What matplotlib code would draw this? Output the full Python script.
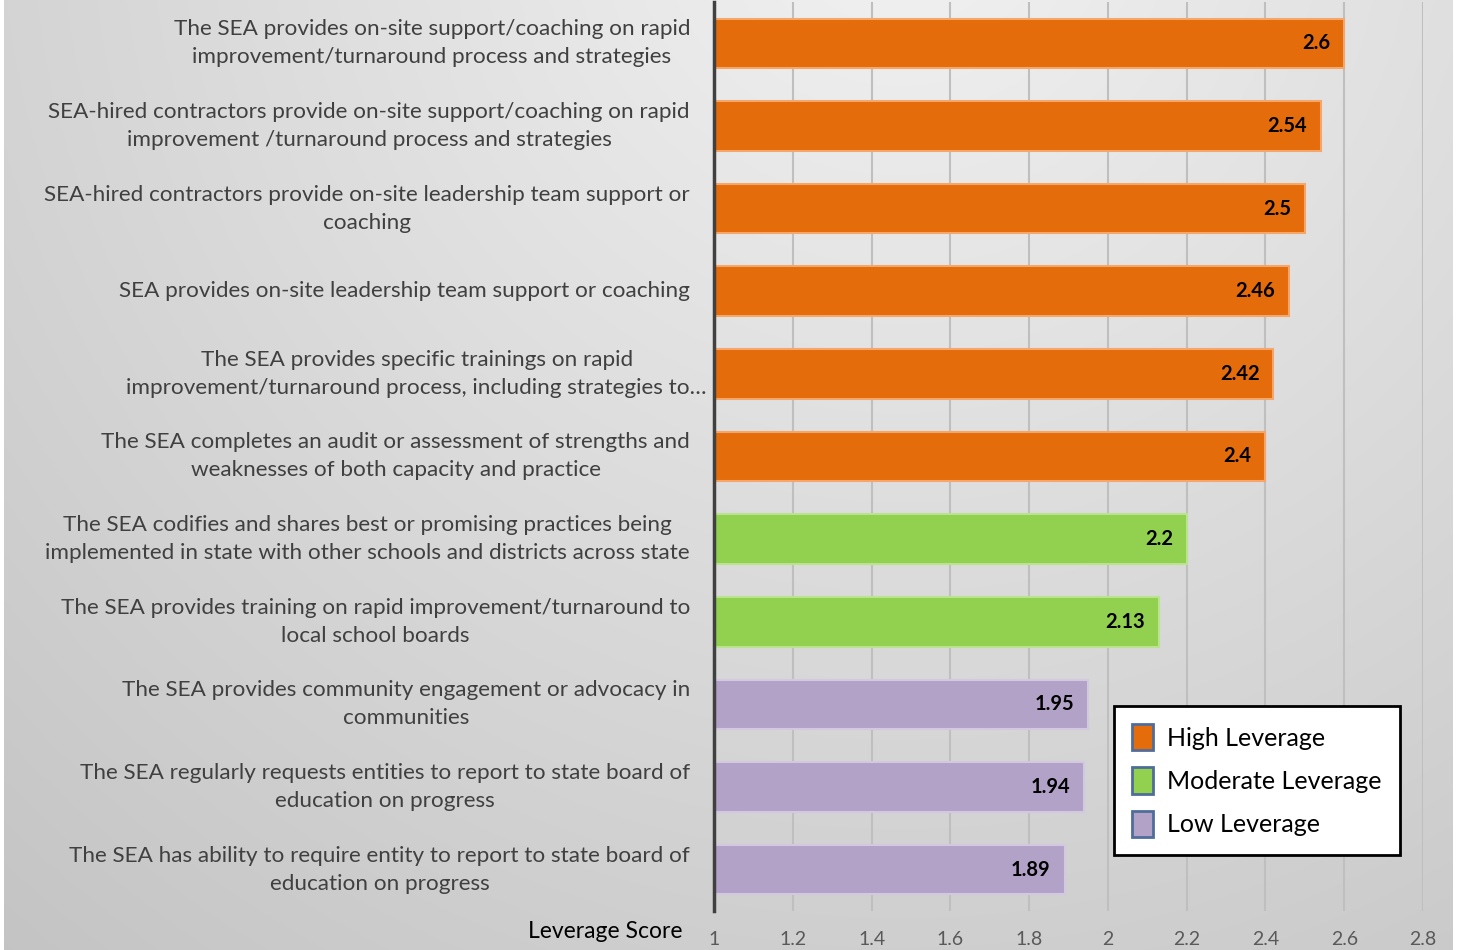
import numpy as np
import matplotlib
matplotlib.use("Agg")
import matplotlib.pyplot as plt
from matplotlib.patches import Patch
from matplotlib.transforms import blended_transform_factory, offset_copy

plt.rcParams["font.family"] = ["Lato", "DejaVu Sans"]

# ---- data -------------------------------------------------------------
labels = [
    "The SEA provides on-site support/coaching on rapid\nimprovement/turnaround process and strategies",
    "SEA-hired contractors provide on-site support/coaching on rapid\nimprovement /turnaround process and strategies",
    "SEA-hired contractors provide on-site leadership team support or\ncoaching",
    "SEA provides on-site leadership team support or coaching",
    "The SEA provides specific trainings on rapid\nimprovement/turnaround process, including strategies to…",
    "The SEA completes an audit or assessment of strengths and\nweaknesses of both capacity and practice",
    "The SEA codifies and shares best or promising practices being\nimplemented in state with other schools and districts across state",
    "The SEA provides training on rapid improvement/turnaround to\nlocal school boards",
    "The SEA provides community engagement or advocacy in\ncommunities",
    "The SEA regularly requests entities to report to state board of\neducation on progress",
    "The SEA has ability to require entity to report to state board of\neducation on progress",
]
scores = [2.6, 2.54, 2.5, 2.46, 2.42, 2.4, 2.2, 2.13, 1.95, 1.94, 1.89]
score_text = ["2.6", "2.54", "2.5", "2.46", "2.42", "2.4", "2.2", "2.13", "1.95", "1.94", "1.89"]
levels = ["High", "High", "High", "High", "High", "High",
          "Moderate", "Moderate", "Low", "Low", "Low"]
x_ticks = [1, 1.2, 1.4, 1.6, 1.8, 2, 2.2, 2.4, 2.6, 2.8]
x_tick_labels = ["1", "1.2", "1.4", "1.6", "1.8", "2", "2.2", "2.4", "2.6", "2.8"]
legend_names = ["High Leverage", "Moderate Leverage", "Low Leverage"]

fill = {"High": "#E46C0A", "Moderate": "#92D050", "Low": "#B3A2C7"}
edge = {"High": "#F5A66A", "Moderate": "#B9E38E", "Low": "#D3C8E2"}

W, H = 1459, 950
fig = plt.figure(figsize=(W / 100, H / 100), dpi=100)

# ---- background: soft radial grey gradient ---------------------------
bg = fig.add_axes([0, 0, 1, 1], zorder=-10)
yy, xx = np.mgrid[0:H, 0:W]
dist = np.hypot(xx - 900, yy + 100)
g = np.clip(0.95 - 1.32e-4 * dist, 0.0, 1.0)
img = np.dstack([g, g, g])
img[:, :4] = 1.0
img[:, 1453:] = 1.0
bg.imshow(img, aspect="auto", interpolation="bilinear")
bg.set_axis_off()

# ---- main bar chart ---------------------------------------------------
ax = fig.add_axes([714 / W, 1 - 911 / H, (1423 - 714) / W, (911 - 2) / H])
ax.set_facecolor("none")

ypos = np.arange(len(scores))
ax.barh(ypos, scores, height=0.6,
        color=[fill[l] for l in levels],
        edgecolor=[edge[l] for l in levels], linewidth=1.5, zorder=3)

ax.set_xlim(1, 2.8)
ax.set_ylim(len(scores) - 0.5, -0.5)
ax.set_xticks(x_ticks)
ax.set_xticklabels(x_tick_labels, color="#595959", fontsize=14)
ax.tick_params(axis="x", length=0, pad=14.5)
ax.set_yticks([])
ax.grid(axis="x", color="#BFBFBF", linewidth=1.5, zorder=0)
ax.set_axisbelow(True)
for s in ("top", "right", "bottom"):
    ax.spines[s].set_visible(False)
ax.spines["left"].set_color("#404040")
ax.spines["left"].set_linewidth(2.5)
ax.spines["left"].set_zorder(5)

# value labels inside bar ends
for y, v, t in zip(ypos, scores, score_text):
    ax.annotate(t, (v, y), xytext=(-10, 0), textcoords="offset points",
                ha="right", va="center", fontsize=14.5, fontweight="bold",
                color="black", zorder=6)

# category labels, right aligned left of the axis
trans = blended_transform_factory(ax.transAxes, ax.transData)
for y, lab in zip(ypos, labels):
    dx = -7 if "strategies to" in lab else -24
    ax.text(0, y, lab, transform=offset_copy(trans, fig=fig, x=dx, y=0, units="dots"),
            ha="right", va="center", multialignment="center",
            fontsize=16.2, color="#404040", linespacing=1.5)

fig.text(683 / W, 1 - 931 / H, "Leverage Score", ha="right", va="center",
         fontsize=16.5, color="black")

# legend
handles = [Patch(facecolor=fill[k], edgecolor="#4F6D9A", linewidth=2)
           for k in ("High", "Moderate", "Low")]
leg = ax.legend(handles, legend_names, loc="upper left",
                bbox_to_anchor=((1114 - 714) / (1423 - 714), 1 - (706 - 2) / 909),
                fontsize=18, frameon=True, fancybox=False, framealpha=1,
                handlelength=0.85, handleheight=1.25, handletextpad=0.55,
                labelspacing=0.68, borderpad=0.72, borderaxespad=0)
leg.get_frame().set_edgecolor("black")
leg.get_frame().set_linewidth(2)
leg.get_frame().set_facecolor("white")
leg.set_zorder(10)

fig.savefig("out.png", dpi=100)
